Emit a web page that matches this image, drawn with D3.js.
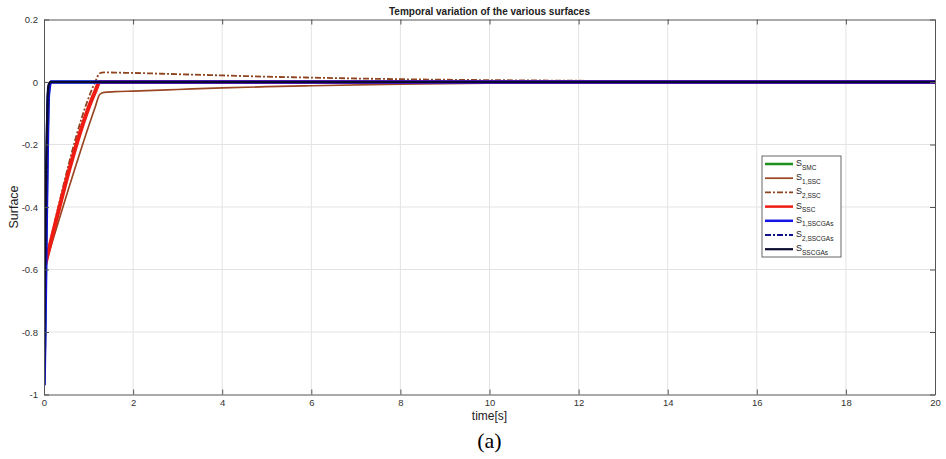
<!DOCTYPE html>
<html>
<head>
<meta charset="utf-8">
<script src="https://cdn.jsdelivr.net/npm/d3@7"></script>
<style>
  body { margin: 0; background: #fff; }
  svg { display: block; font-family: "Liberation Sans", Arial, sans-serif; }
</style>
</head>
<body>
<svg id="canvas"></svg>
<script>
"use strict";

// Slow transients (SSC surfaces)
const tSlow = [0, 1.15, 1.25, 1.35, 1.6, 2, 3, 4, 5, 6, 8, 10, 12, 14, 16, 20];
const s1SSC = [-0.6, -0.08, -0.04, -0.033, -0.031, -0.029, -0.024, -0.019, -0.015, -0.012, -0.007, -0.004, -0.002, -0.001, 0, 0];
const s2SSC = [-0.6, 0.0, 0.028, 0.031, 0.030, 0.029, 0.025, 0.021, 0.017, 0.014, 0.009, 0.006, 0.004, 0.002, 0.001, 0];
const sSSC  = [-0.6, -0.03, 0, 0, 0, 0, 0, 0, 0, 0, 0, 0, 0, 0, 0, 0];

// Fast transients (SMC / SSCGAs surfaces)
const tFast = [0, 0.02, 0.05, 0.08, 0.1, 0.15, 20];
const sSMC     = [-0.97, -0.8, -0.45, -0.15, -0.04, 0, 0];
const s1SSCGAs = [-0.97, -0.8, -0.45, -0.15, -0.04, 0, 0];
const s2SSCGAs = [-0.97, -0.75, -0.4, -0.12, -0.03, 0, 0];
const sSSCGAs  = [-0.97, -0.6, -0.25, -0.05, -0.01, 0, 0];

const xTicks = [0, 2, 4, 6, 8, 10, 12, 14, 16, 18, 20];
const yTicks = [0.2, 0, -0.2, -0.4, -0.6, -0.8, -1];

const series = [
  { sub: "SMC", t: tFast, v: sSMC, color: "#1f8f1f", width: 3, dash: null },
  { sub: "1,SSC", t: tSlow, v: s1SSC, color: "#9a4622", width: 1.7, dash: null },
  { sub: "2,SSC", t: tSlow, v: s2SSC, color: "#8e4420", width: 1.8, dash: "6,2,2,2" },
  { sub: "SSC", t: tSlow, v: sSSC, color: "#ee1c13", width: 4, dash: null },
  { sub: "1,SSCGAs", t: tFast, v: s1SSCGAs, color: "#1414e6", width: 3.5, dash: null },
  { sub: "2,SSCGAs", t: tFast, v: s2SSCGAs, color: "#10108a", width: 2, dash: "6,2,2,2" },
  { sub: "SSCGAs", t: tFast, v: sSSCGAs, color: "#0b0b30", width: 2.2, dash: null }
];

const W = 946, H = 459;
const m = { left: 44, right: 935, top: 19.5, bottom: 394.5 };

const svg = d3.select("#canvas").attr("width", W).attr("height", H);

const x = d3.scaleLinear().domain([0, 20]).range([m.left, m.right]);
const y = d3.scaleLinear().domain([-1, 0.2]).range([m.bottom, m.top]);

// grid
svg.append("g").selectAll("line").data(xTicks.slice(1, -1)).enter().append("line")
  .attr("x1", d => x(d)).attr("x2", d => x(d))
  .attr("y1", m.top).attr("y2", m.bottom)
  .attr("stroke", "#e3e3e3").attr("stroke-width", 1);
svg.append("g").selectAll("line").data(yTicks.slice(1, -1)).enter().append("line")
  .attr("y1", d => y(d)).attr("y2", d => y(d))
  .attr("x1", m.left).attr("x2", m.right)
  .attr("stroke", "#e3e3e3").attr("stroke-width", 1);

// curves
svg.append("clipPath").attr("id", "clip").append("rect")
  .attr("x", m.left).attr("y", m.top)
  .attr("width", m.right - m.left).attr("height", m.bottom - m.top);

const line = d3.line().x(d => x(d[0])).y(d => y(d[1])).curve(d3.curveMonotoneX);

svg.append("g").attr("clip-path", "url(#clip)")
  .selectAll("path").data(series).enter().append("path")
  .attr("d", s => line(s.t.map((t, i) => [t, s.v[i]])))
  .attr("fill", "none")
  .attr("stroke", s => s.color)
  .attr("stroke-width", s => s.width)
  .attr("stroke-dasharray", s => s.dash)
  .attr("stroke-linejoin", "round");

// axes (box with inward ticks)
const tickLen = 5;
const axisColor = "#555";
const fmt = d => String(+d.toFixed(1));
const xAxisB = d3.axisBottom(x).tickValues(xTicks).tickSizeInner(-tickLen).tickSizeOuter(0).tickPadding(5).tickFormat(fmt);
const xAxisT = d3.axisTop(x).tickValues(xTicks).tickSizeInner(-tickLen).tickSizeOuter(0).tickFormat("");
const yAxisL = d3.axisLeft(y).tickValues(yTicks).tickSizeInner(-tickLen).tickSizeOuter(0).tickPadding(6).tickFormat(fmt);
const yAxisR = d3.axisRight(y).tickValues(yTicks).tickSizeInner(-tickLen).tickSizeOuter(0).tickFormat("");

const gs = [
  svg.append("g").attr("transform", `translate(0,${m.bottom})`).call(xAxisB),
  svg.append("g").attr("transform", `translate(0,${m.top})`).call(xAxisT),
  svg.append("g").attr("transform", `translate(${m.left},0)`).call(yAxisL),
  svg.append("g").attr("transform", `translate(${m.right},0)`).call(yAxisR)
];
gs.forEach(g => {
  g.select(".domain").attr("stroke", axisColor);
  g.selectAll(".tick line").attr("stroke", axisColor);
  g.selectAll(".tick text").attr("fill", "#333").attr("font-size", "9.5px")
    .attr("font-family", "'Liberation Sans', Arial, sans-serif");
});

// labels
svg.append("text").attr("x", (m.left + m.right) / 2).attr("y", 15)
  .attr("text-anchor", "middle").attr("font-size", "10px").attr("font-weight", "bold")
  .attr("fill", "#222").text("Temporal variation of the various surfaces");

svg.append("text").attr("x", (m.left + m.right) / 2).attr("y", 420)
  .attr("text-anchor", "middle").attr("font-size", "12px").attr("fill", "#222").text("time[s]");

svg.append("text").attr("transform", `translate(18,${(m.top + m.bottom) / 2}) rotate(-90)`)
  .attr("text-anchor", "middle").attr("font-size", "12.5px").attr("fill", "#222").text("Surface");

svg.append("text").attr("x", (m.left + m.right) / 2).attr("y", 448)
  .attr("text-anchor", "middle").attr("font-size", "22px")
  .attr("font-family", "'Liberation Serif', 'Times New Roman', serif")
  .attr("fill", "#000").text("(a)");

// legend
const lg = svg.append("g").attr("transform", "translate(762,156)");
lg.append("rect").attr("width", 79).attr("height", 101)
  .attr("fill", "#fff").attr("stroke", "#666").attr("stroke-width", 1);
const items = lg.selectAll(".legend-item").data(series).enter().append("g")
  .attr("class", "legend-item")
  .attr("transform", (d, i) => `translate(0,${8 + i * 14.2})`);
items.append("line").attr("x1", 3).attr("x2", 31)
  .attr("stroke", d => d.color)
  .attr("stroke-width", d => Math.min(d.width, 2.5))
  .attr("stroke-dasharray", d => d.dash);
const lt = items.append("text").attr("x", 34).attr("y", 2)
  .attr("font-size", "9px").attr("fill", "#222");
lt.append("tspan").text("S");
lt.append("tspan").attr("dy", 3.5).attr("font-size", "6.5px").text(d => d.sub);
</script>
</body>
</html>
